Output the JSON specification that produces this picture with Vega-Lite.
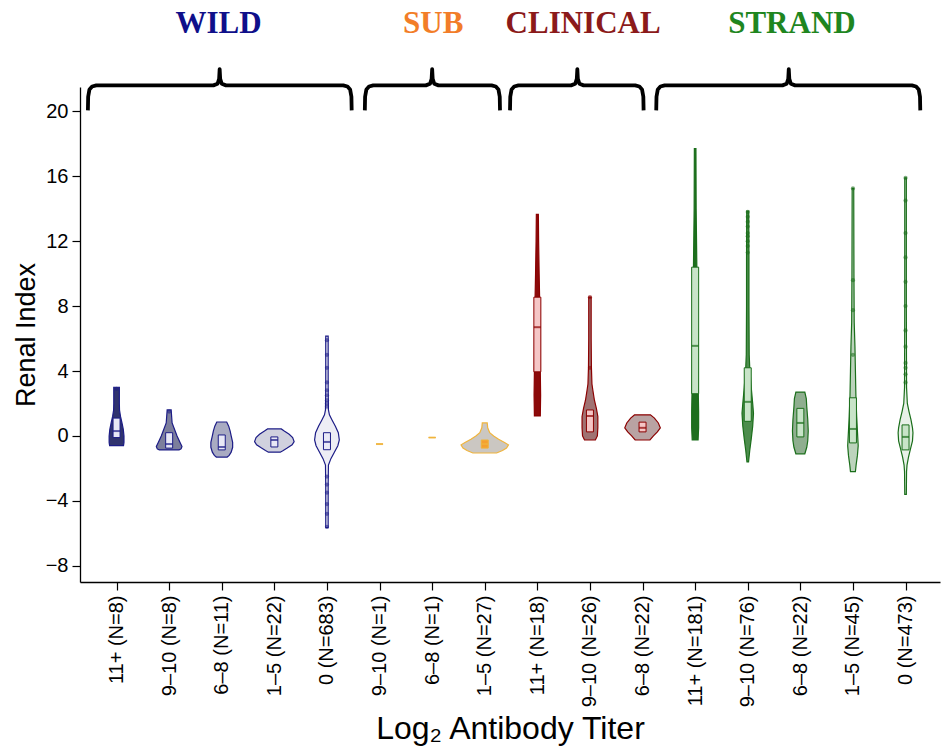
{
  "$schema": "https://vega.github.io/schema/vega-lite/v6.json",
  "width": 860,
  "height": 495,
  "autosize": {"type": "none"},
  "padding": {"left": 80, "top": 87, "right": 1, "bottom": 171},
  "background": "white",
  "config": {
    "view": {"stroke": null},
    "axis": {"grid": false, "domainColor": "#000", "tickColor": "#000", "labelColor": "#000", "titleColor": "#000", "labelFont": "Liberation Sans", "titleFont": "Liberation Sans", "labelFontSize": 20, "titleFontSize": 27, "titleFontWeight": "normal", "tickSize": 8, "domainWidth": 1.3, "tickWidth": 1.2}
  },
  "datasets": {
    "violin": [
      {"p":1,"y":3.0,"w":0.053},{"p":1,"y":2.0,"w":0.053},{"p":1,"y":1.6,"w":0.056},{"p":1,"y":1.2,"w":0.075},{"p":1,"y":0.8,"w":0.103},{"p":1,"y":0.4,"w":0.128},{"p":1,"y":0,"w":0.141},{"p":1,"y":-0.4,"w":0.141},{"p":1,"y":-0.6,"w":0.132},
      {"p":2,"y":1.6,"w":0.038},{"p":2,"y":1.2,"w":0.047},{"p":2,"y":0.8,"w":0.056},{"p":2,"y":0.4,"w":0.103},{"p":2,"y":0,"w":0.15},{"p":2,"y":-0.4,"w":0.207},{"p":2,"y":-0.65,"w":0.244},{"p":2,"y":-0.8,"w":0.226},{"p":2,"y":-0.86,"w":0.188},
      {"p":3,"y":0.86,"w":0.094},{"p":3,"y":0.6,"w":0.132},{"p":3,"y":0.3,"w":0.16},{"p":3,"y":0,"w":0.179},{"p":3,"y":-0.4,"w":0.207},{"p":3,"y":-0.7,"w":0.207},{"p":3,"y":-1.0,"w":0.179},{"p":3,"y":-1.2,"w":0.141},{"p":3,"y":-1.3,"w":0.103},
      {"p":4,"y":0.43,"w":0.132},{"p":4,"y":0.3,"w":0.188},{"p":4,"y":0.1,"w":0.282},{"p":4,"y":-0.1,"w":0.348},{"p":4,"y":-0.35,"w":0.376},{"p":4,"y":-0.55,"w":0.338},{"p":4,"y":-0.75,"w":0.244},{"p":4,"y":-0.9,"w":0.169},{"p":4,"y":-1.0,"w":0.113},
      {"p":5,"y":6.15,"w":0.023},{"p":5,"y":3,"w":0.023},{"p":5,"y":1.6,"w":0.028},{"p":5,"y":1.3,"w":0.047},{"p":5,"y":1.0,"w":0.094},{"p":5,"y":0.6,"w":0.16},{"p":5,"y":0.2,"w":0.216},{"p":5,"y":-0.25,"w":0.235},{"p":5,"y":-0.6,"w":0.207},{"p":5,"y":-1.0,"w":0.141},{"p":5,"y":-1.4,"w":0.075},{"p":5,"y":-1.8,"w":0.028},{"p":5,"y":-3,"w":0.023},{"p":5,"y":-5.65,"w":0.023},
      {"p":8,"y":0.8,"w":0.047},{"p":8,"y":0.5,"w":0.056},{"p":8,"y":0.2,"w":0.094},{"p":8,"y":0,"w":0.169},{"p":8,"y":-0.2,"w":0.263},{"p":8,"y":-0.4,"w":0.376},{"p":8,"y":-0.55,"w":0.451},{"p":8,"y":-0.75,"w":0.414},{"p":8,"y":-0.9,"w":0.338},{"p":8,"y":-1.05,"w":0.226},
      {"p":9,"y":13.65,"w":0.019},{"p":9,"y":12,"w":0.024},{"p":9,"y":10,"w":0.034},{"p":9,"y":8.5,"w":0.043},{"p":9,"y":6.5,"w":0.053},{"p":9,"y":4,"w":0.056},{"p":9,"y":2.5,"w":0.062},{"p":9,"y":1.23,"w":0.056},
      {"p":10,"y":8.55,"w":0.023},{"p":10,"y":6,"w":0.023},{"p":10,"y":4.2,"w":0.028},{"p":10,"y":3.2,"w":0.038},{"p":10,"y":2.8,"w":0.056},{"p":10,"y":2.2,"w":0.085},{"p":10,"y":1.7,"w":0.122},{"p":10,"y":1.2,"w":0.15},{"p":10,"y":0.5,"w":0.15},{"p":10,"y":0,"w":0.141},{"p":10,"y":-0.25,"w":0.103},
      {"p":11,"y":1.3,"w":0.15},{"p":11,"y":1.1,"w":0.226},{"p":11,"y":0.8,"w":0.3},{"p":11,"y":0.5,"w":0.338},{"p":11,"y":0.25,"w":0.282},{"p":11,"y":0,"w":0.207},{"p":11,"y":-0.25,"w":0.141},
      {"p":12,"y":17.7,"w":0.015},{"p":12,"y":14,"w":0.019},{"p":12,"y":11,"w":0.03},{"p":12,"y":8,"w":0.041},{"p":12,"y":5,"w":0.049},{"p":12,"y":2.6,"w":0.06},{"p":12,"y":1.5,"w":0.066},{"p":12,"y":0.5,"w":0.066},{"p":12,"y":-0.25,"w":0.056},
      {"p":13,"y":13.85,"w":0.019},{"p":13,"y":11,"w":0.023},{"p":13,"y":8,"w":0.023},{"p":13,"y":5,"w":0.028},{"p":13,"y":4.2,"w":0.038},{"p":13,"y":3,"w":0.066},{"p":13,"y":2,"w":0.094},{"p":13,"y":1.4,"w":0.109},{"p":13,"y":0.6,"w":0.094},{"p":13,"y":-0.2,"w":0.066},{"p":13,"y":-0.9,"w":0.038},{"p":13,"y":-1.6,"w":0.015},
      {"p":14,"y":2.7,"w":0.085},{"p":14,"y":2.3,"w":0.113},{"p":14,"y":1.8,"w":0.122},{"p":14,"y":1.0,"w":0.141},{"p":14,"y":0.3,"w":0.15},{"p":14,"y":-0.3,"w":0.141},{"p":14,"y":-0.7,"w":0.122},{"p":14,"y":-1.1,"w":0.085},
      {"p":15,"y":15.25,"w":0.015},{"p":15,"y":10,"w":0.019},{"p":15,"y":7,"w":0.024},{"p":15,"y":5.5,"w":0.038},{"p":15,"y":4,"w":0.047},{"p":15,"y":2.5,"w":0.056},{"p":15,"y":1.2,"w":0.071},{"p":15,"y":0,"w":0.09},{"p":15,"y":-0.6,"w":0.1},{"p":15,"y":-1.2,"w":0.085},{"p":15,"y":-1.8,"w":0.06},{"p":15,"y":-2.2,"w":0.047},
      {"p":16,"y":15.9,"w":0.015},{"p":16,"y":8,"w":0.015},{"p":16,"y":3,"w":0.019},{"p":16,"y":2,"w":0.034},{"p":16,"y":1.5,"w":0.066},{"p":16,"y":1.0,"w":0.103},{"p":16,"y":0.5,"w":0.132},{"p":16,"y":0.2,"w":0.141},{"p":16,"y":-0.3,"w":0.132},{"p":16,"y":-0.8,"w":0.094},{"p":16,"y":-1.3,"w":0.056},{"p":16,"y":-1.8,"w":0.028},{"p":16,"y":-2.2,"w":0.019},{"p":16,"y":-3.6,"w":0.015}
    ],
    "box": [
      {"p":1,"g":"WILD","q1":-0.1,"med":0.3,"q3":1.1},
      {"p":2,"g":"WILD","q1":-0.75,"med":-0.5,"q3":0.2},
      {"p":3,"g":"WILD","q1":-0.86,"med":-0.68,"q3":0.06},
      {"p":4,"g":"WILD","q1":-0.68,"med":-0.25,"q3":-0.06},
      {"p":5,"g":"WILD","q1":-0.85,"med":-0.37,"q3":0.2},
      {"p":6,"g":"SUB","q1":-0.5,"med":-0.5,"q3":-0.5},
      {"p":7,"g":"SUB","q1":-0.1,"med":-0.1,"q3":-0.1},
      {"p":8,"g":"SUB","q1":-0.75,"med":-0.5,"q3":-0.25},
      {"p":9,"g":"CLINICAL","q1":3.95,"med":6.7,"q3":8.55},
      {"p":10,"g":"CLINICAL","q1":0.25,"med":1.23,"q3":1.6},
      {"p":11,"g":"CLINICAL","q1":0.25,"med":0.5,"q3":0.85},
      {"p":12,"g":"STRAND","q1":2.6,"med":5.55,"q3":10.4},
      {"p":13,"g":"STRAND","q1":0.9,"med":2.1,"q3":4.2},
      {"p":14,"g":"STRAND","q1":-0.06,"med":0.8,"q3":1.7},
      {"p":15,"g":"STRAND","q1":-0.43,"med":0.43,"q3":2.35},
      {"p":16,"g":"STRAND","q1":-0.86,"med":-0.06,"q3":0.68}
    ],
    "pts": [
      {"p":1,"g":"WILD","v":2.9},{"p":2,"g":"WILD","v":1.5},
      {"p":5,"g":"WILD","v":5.9},{"p":5,"g":"WILD","v":5.0},{"p":5,"g":"WILD","v":4.2},{"p":5,"g":"WILD","v":3.3},{"p":5,"g":"WILD","v":2.8},{"p":5,"g":"WILD","v":2.5},{"p":5,"g":"WILD","v":2.2},{"p":5,"g":"WILD","v":2.0},{"p":5,"g":"WILD","v":1.8},{"p":5,"g":"WILD","v":-2.5},{"p":5,"g":"WILD","v":-3.0},{"p":5,"g":"WILD","v":-3.5},{"p":5,"g":"WILD","v":-4.2},{"p":5,"g":"WILD","v":-4.8},{"p":5,"g":"WILD","v":-5.6},
      {"p":10,"g":"CLINICAL","v":8.55},{"p":10,"g":"CLINICAL","v":4.2},
      {"p":13,"g":"STRAND","v":13.8},{"p":13,"g":"STRAND","v":13.5},{"p":13,"g":"STRAND","v":13.2},{"p":13,"g":"STRAND","v":12.9},{"p":13,"g":"STRAND","v":12.5},{"p":13,"g":"STRAND","v":12.3},{"p":13,"g":"STRAND","v":12.0},{"p":13,"g":"STRAND","v":11.7},{"p":13,"g":"STRAND","v":11.3},
      {"p":15,"g":"STRAND","v":15.25},{"p":15,"g":"STRAND","v":9.6},{"p":15,"g":"STRAND","v":7.75},{"p":15,"g":"STRAND","v":5.0},
      {"p":16,"g":"STRAND","v":15.9},{"p":16,"g":"STRAND","v":14.5},{"p":16,"g":"STRAND","v":12.5},{"p":16,"g":"STRAND","v":11.0},{"p":16,"g":"STRAND","v":9.5},{"p":16,"g":"STRAND","v":8.0},{"p":16,"g":"STRAND","v":6.5},{"p":16,"g":"STRAND","v":5.5},{"p":16,"g":"STRAND","v":4.5},{"p":16,"g":"STRAND","v":4.2},{"p":16,"g":"STRAND","v":3.8},{"p":16,"g":"STRAND","v":3.3}
    ],
    "brackets": [
      {"g":"WILD","k":0,"bx":0.455,"by":20.06},{"g":"WILD","k":1,"bx":0.46,"by":20.9},{"g":"WILD","k":2,"bx":0.485,"by":21.35},{"g":"WILD","k":3,"bx":0.535,"by":21.53},{"g":"WILD","k":4,"bx":0.615,"by":21.6},{"g":"WILD","k":5,"bx":2.84,"by":21.6},{"g":"WILD","k":6,"bx":2.92,"by":21.7},{"g":"WILD","k":7,"bx":2.95,"by":22.0},{"g":"WILD","k":8,"bx":2.96,"by":22.6},{"g":"WILD","k":9,"bx":2.97,"by":22.0},{"g":"WILD","k":10,"bx":3.0,"by":21.7},{"g":"WILD","k":11,"bx":3.08,"by":21.6},{"g":"WILD","k":12,"bx":5.31,"by":21.6},{"g":"WILD","k":13,"bx":5.39,"by":21.53},{"g":"WILD","k":14,"bx":5.44,"by":21.35},{"g":"WILD","k":15,"bx":5.465,"by":20.9},{"g":"WILD","k":16,"bx":5.47,"by":20.06},
      {"g":"SUB","k":0,"bx":5.72,"by":20.06},{"g":"SUB","k":1,"bx":5.725,"by":20.9},{"g":"SUB","k":2,"bx":5.75,"by":21.35},{"g":"SUB","k":3,"bx":5.8,"by":21.53},{"g":"SUB","k":4,"bx":5.88,"by":21.6},{"g":"SUB","k":5,"bx":6.88,"by":21.6},{"g":"SUB","k":6,"bx":6.96,"by":21.7},{"g":"SUB","k":7,"bx":6.99,"by":22.0},{"g":"SUB","k":8,"bx":7.0,"by":22.6},{"g":"SUB","k":9,"bx":7.01,"by":22.0},{"g":"SUB","k":10,"bx":7.04,"by":21.7},{"g":"SUB","k":11,"bx":7.12,"by":21.6},{"g":"SUB","k":12,"bx":8.13,"by":21.6},{"g":"SUB","k":13,"bx":8.21,"by":21.53},{"g":"SUB","k":14,"bx":8.26,"by":21.35},{"g":"SUB","k":15,"bx":8.285,"by":20.9},{"g":"SUB","k":16,"bx":8.29,"by":20.06},
      {"g":"CLINICAL","k":0,"bx":8.48,"by":20.06},{"g":"CLINICAL","k":1,"bx":8.485,"by":20.9},{"g":"CLINICAL","k":2,"bx":8.51,"by":21.35},{"g":"CLINICAL","k":3,"bx":8.56,"by":21.53},{"g":"CLINICAL","k":4,"bx":8.64,"by":21.6},{"g":"CLINICAL","k":5,"bx":9.64,"by":21.6},{"g":"CLINICAL","k":6,"bx":9.72,"by":21.7},{"g":"CLINICAL","k":7,"bx":9.75,"by":22.0},{"g":"CLINICAL","k":8,"bx":9.76,"by":22.6},{"g":"CLINICAL","k":9,"bx":9.77,"by":22.0},{"g":"CLINICAL","k":10,"bx":9.8,"by":21.7},{"g":"CLINICAL","k":11,"bx":9.88,"by":21.6},{"g":"CLINICAL","k":12,"bx":10.86,"by":21.6},{"g":"CLINICAL","k":13,"bx":10.94,"by":21.53},{"g":"CLINICAL","k":14,"bx":10.99,"by":21.35},{"g":"CLINICAL","k":15,"bx":11.015,"by":20.9},{"g":"CLINICAL","k":16,"bx":11.02,"by":20.06},
      {"g":"STRAND","k":0,"bx":11.26,"by":20.06},{"g":"STRAND","k":1,"bx":11.265,"by":20.9},{"g":"STRAND","k":2,"bx":11.29,"by":21.35},{"g":"STRAND","k":3,"bx":11.34,"by":21.53},{"g":"STRAND","k":4,"bx":11.42,"by":21.6},{"g":"STRAND","k":5,"bx":13.66,"by":21.6},{"g":"STRAND","k":6,"bx":13.74,"by":21.7},{"g":"STRAND","k":7,"bx":13.77,"by":22.0},{"g":"STRAND","k":8,"bx":13.78,"by":22.6},{"g":"STRAND","k":9,"bx":13.79,"by":22.0},{"g":"STRAND","k":10,"bx":13.82,"by":21.7},{"g":"STRAND","k":11,"bx":13.9,"by":21.6},{"g":"STRAND","k":12,"bx":16.12,"by":21.6},{"g":"STRAND","k":13,"bx":16.2,"by":21.53},{"g":"STRAND","k":14,"bx":16.25,"by":21.35},{"g":"STRAND","k":15,"bx":16.275,"by":20.9},{"g":"STRAND","k":16,"bx":16.28,"by":20.06}
    ],
    "labels": [
      {"g":"WILD","lx":2.94,"ly":24.8},
      {"g":"SUB","lx":7.02,"ly":24.8},
      {"g":"CLINICAL","lx":9.87,"ly":24.8},
      {"g":"STRAND","lx":13.84,"ly":24.8}
    ]
  },
  "resolve": {"scale": {"fill": "independent", "stroke": "independent", "color": "independent"}},
  "layer": [
    {
      "mark": {"type": "rule", "color": "#aaaaaa", "strokeWidth": 2},
      "encoding": {
        "y": {"datum": 1.72, "type": "quantitative", "scale": {"domain": [-9, 21.5], "nice": false, "zero": false}}
      }
    },
    {
      "data": {"name": "violin"},
      "transform": [
        {"calculate": "datum.p - datum.w", "as": "xl"},
        {"calculate": "datum.p + datum.w", "as": "xr"}
      ],
      "mark": {"type": "area", "orient": "horizontal", "strokeWidth": 1.2, "opacity": 1},
      "encoding": {
        "y": {"field": "y", "type": "quantitative", "title": "Renal Index", "scale": {"domain": [-9, 21.5], "nice": false, "zero": false},
              "axis": {"values": [-8, -4, 0, 4, 8, 12, 16, 20], "labelPadding": 4, "titlePadding": 5}},
        "x": {"field": "xl", "type": "quantitative", "title": "Log₂ Antibody Titer", "scale": {"domain": [0.4, 16.56], "nice": false, "zero": false},
              "axis": {"values": [1,2,3,4,5,6,7,8,9,10,11,12,13,14,15,16], "labelAngle": 270, "labelPadding": 5, "titlePadding": 7, "titleFontSize": 32, "labelOverlap": false,
                       "labelExpr": "['11+ (N=8)','9–10 (N=8)','6–8 (N=11)','1–5 (N=22)','0 (N=683)','9–10 (N=1)','6–8 (N=1)','1–5 (N=27)','11+ (N=18)','9–10 (N=26)','6–8 (N=22)','11+ (N=181)','9–10 (N=76)','6–8 (N=22)','1–5 (N=45)','0 (N=473)'][datum.value - 1]"}},
        "x2": {"field": "xr"},
        "fill": {"field": "p", "type": "nominal", "legend": null,
                 "scale": {"domain": [1,2,3,4,5,8,9,10,11,12,13,14,15,16],
                           "range": ["#30336e","#7c7e9c","#a9abc2","#d0d1de","#ededf5","#cbc7c2","#8b0a0a","#a07272","#b9a3a3","#1e6e1e","#4d8d4d","#8fae8f","#bcd3bc","#e8f1e8"]}},
        "stroke": {"field": "p", "type": "nominal", "legend": null,
                   "scale": {"domain": [1,2,3,4,5,8,9,10,11,12,13,14,15,16],
                             "range": ["#1c1c86","#1c1c86","#1c1c86","#1c1c86","#1c1c86","#f0b43c","#8b0000","#8b0000","#8b0000","#1a6e1a","#1a6e1a","#1a6e1a","#1a6e1a","#1a6e1a"]}}
      }
    },
    {
      "data": {"name": "pts"},
      "mark": {"type": "circle", "size": 18, "opacity": 0.55},
      "encoding": {
        "x": {"field": "p", "type": "quantitative", "title": "Log₂ Antibody Titer", "scale": {"domain": [0.4, 16.56], "nice": false, "zero": false}},
        "y": {"field": "v", "type": "quantitative", "title": "Renal Index", "scale": {"domain": [-9, 21.5], "nice": false, "zero": false}},
        "color": {"field": "g", "type": "nominal", "legend": null,
                  "scale": {"domain": ["WILD","SUB","CLINICAL","STRAND"], "range": ["#1c1c86","#f0b43c","#8b0000","#1a6e1a"]}}
      }
    },
    {
      "data": {"name": "box"},
      "mark": {"type": "bar", "size": 7, "strokeWidth": 1, "orient": "vertical"},
      "encoding": {
        "x": {"field": "p", "type": "quantitative", "title": "Log₂ Antibody Titer", "scale": {"domain": [0.4, 16.56], "nice": false, "zero": false}},
        "y": {"field": "q1", "type": "quantitative", "title": "Renal Index", "scale": {"domain": [-9, 21.5], "nice": false, "zero": false}},
        "y2": {"field": "q3"},
        "fill": {"field": "g", "type": "nominal", "legend": null,
                 "scale": {"domain": ["WILD","SUB","CLINICAL","STRAND"], "range": ["#e8e8f6","#f5a030","#f5c6c6","#c8e4c8"]}},
        "stroke": {"field": "g", "type": "nominal", "legend": null,
                   "scale": {"domain": ["WILD","SUB","CLINICAL","STRAND"], "range": ["#1c1c86","#f0b43c","#8b0000","#1a6e1a"]}}
      }
    },
    {
      "data": {"name": "box"},
      "mark": {"type": "tick", "orient": "horizontal", "size": 7, "thickness": 2},
      "encoding": {
        "x": {"field": "p", "type": "quantitative", "title": "Log₂ Antibody Titer", "scale": {"domain": [0.4, 16.56], "nice": false, "zero": false}},
        "y": {"field": "med", "type": "quantitative", "title": "Renal Index", "scale": {"domain": [-9, 21.5], "nice": false, "zero": false}},
        "color": {"field": "g", "type": "nominal", "legend": null,
                  "scale": {"domain": ["WILD","SUB","CLINICAL","STRAND"], "range": ["#1c1c86","#f0b43c","#8b0000","#1a6e1a"]}}
      }
    },
    {
      "data": {"name": "brackets"},
      "mark": {"type": "line", "color": "#000000", "strokeWidth": 3.8, "strokeJoin": "round"},
      "encoding": {
        "x": {"field": "bx", "type": "quantitative", "title": "Log₂ Antibody Titer", "scale": {"domain": [0.4, 16.56], "nice": false, "zero": false}},
        "y": {"field": "by", "type": "quantitative", "title": "Renal Index", "scale": {"domain": [-9, 21.5], "nice": false, "zero": false}},
        "detail": {"field": "g", "type": "nominal"},
        "order": {"field": "k", "type": "quantitative"}
      }
    },
    {
      "data": {"name": "labels"},
      "mark": {"type": "text", "font": "Liberation Serif", "fontWeight": "bold", "fontSize": 31, "align": "center", "baseline": "alphabetic"},
      "encoding": {
        "x": {"field": "lx", "type": "quantitative", "title": "Log₂ Antibody Titer", "scale": {"domain": [0.4, 16.56], "nice": false, "zero": false}},
        "y": {"field": "ly", "type": "quantitative", "title": "Renal Index", "scale": {"domain": [-9, 21.5], "nice": false, "zero": false}},
        "text": {"field": "g", "type": "nominal"},
        "color": {"field": "g", "type": "nominal", "legend": null,
                  "scale": {"domain": ["WILD","SUB","CLINICAL","STRAND"], "range": ["#0f0f8a","#f27d28","#8b1a1a","#1f861f"]}}
      }
    }
  ]
}
